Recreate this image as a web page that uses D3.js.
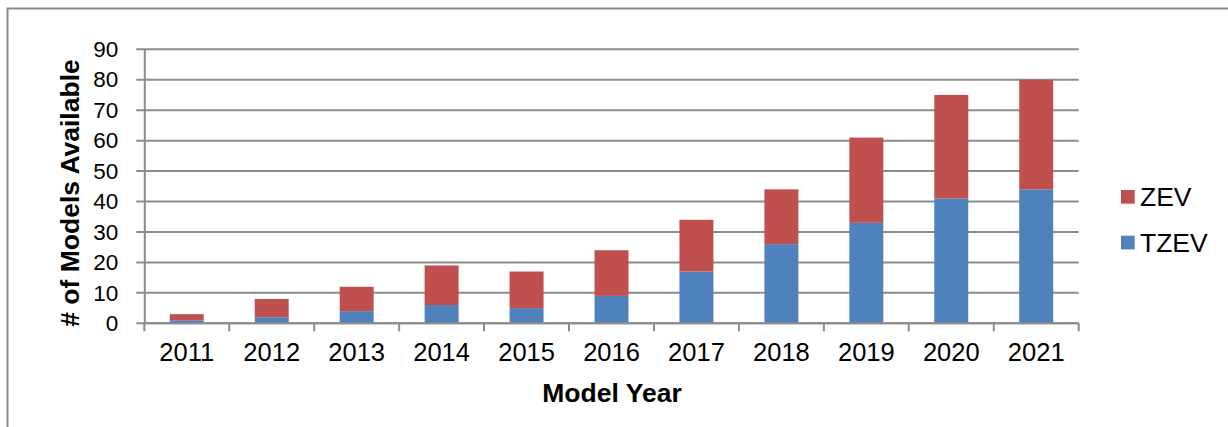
<!DOCTYPE html>
<html>
<head>
<meta charset="utf-8">
<script src="https://cdn.jsdelivr.net/npm/d3@7"></script>
<style>
  body { margin: 0; background: #fff; }
  svg { display: block; font-family: "Liberation Sans", Arial, sans-serif; }
</style>
</head>
<body>
<svg id="chart" width="1228" height="427"></svg>
<script>
var years = ["2011", "2012", "2013", "2014", "2015", "2016", "2017", "2018", "2019", "2020", "2021"];
var tzev = [1, 2, 4, 6, 5, 9, 17, 26, 33, 41, 44];
var zev = [2, 6, 8, 13, 12, 15, 17, 18, 28, 34, 36];
var yTicks = [0, 10, 20, 30, 40, 50, 60, 70, 80, 90];
var seriesNames = ["TZEV", "ZEV"];
var colors = {TZEV: "#4F81BD", ZEV: "#C0504D"};

var margin = {top: 49.3, left: 144.3};
var width = 1078.7 - margin.left;
var height = 323.3 - margin.top;

var svg = d3.select("#chart");

// outer frame
svg.append("rect")
    .attr("x", 7.5).attr("y", 8.5)
    .attr("width", 1240).attr("height", 440)
    .attr("fill", "none")
    .attr("stroke", "#8a8a8a")
    .attr("stroke-width", 2);

var g = svg.append("g")
    .attr("transform", "translate(" + margin.left + "," + margin.top + ")");

var x = d3.scaleBand().domain(years).range([0, width]).paddingInner(0.6).paddingOuter(0.3);
var xOuter = d3.scaleBand().domain(years).range([0, width]);
var y = d3.scaleLinear().domain([0, 90]).range([height, 0]);

// gridlines
g.append("g")
    .selectAll("line")
    .data(yTicks)
    .enter().append("line")
    .attr("x1", -8).attr("x2", width)
    .attr("y1", function(d) { return y(d); })
    .attr("y2", function(d) { return y(d); })
    .attr("stroke", "#8c8c8c")
    .attr("stroke-width", 2);

// stacked bars
var table = years.map(function(yr, i) { return {year: yr, TZEV: tzev[i], ZEV: zev[i]}; });
var stack = d3.stack().keys(seriesNames)(table);

g.append("g")
    .selectAll("g")
    .data(stack)
    .enter().append("g")
    .attr("fill", function(d) { return colors[d.key]; })
    .selectAll("rect")
    .data(function(d) { return d; })
    .enter().append("rect")
    .attr("x", function(d) { return x(d.data.year); })
    .attr("width", x.bandwidth())
    .attr("y", function(d) { return y(d[1]); })
    .attr("height", function(d) { return y(d[0]) - y(d[1]); });

// y axis
var yAxis = g.append("g")
    .call(d3.axisLeft(y).tickValues(yTicks).tickSize(0).tickPadding(26));
yAxis.select(".domain").attr("stroke", "#8c8c8c").attr("stroke-width", 2);
yAxis.selectAll("text")
    .attr("font-size", "22.5px")
    .attr("fill", "#000")
    .attr("font-family", "Liberation Sans, Arial, sans-serif");

// x axis
var xAxis = g.append("g")
    .attr("transform", "translate(0," + height + ")")
    .call(d3.axisBottom(xOuter).tickSize(0).tickPadding(20));
xAxis.select(".domain").remove();
xAxis.selectAll("text")
    .attr("font-size", "25.5px")
    .attr("fill", "#000")
    .attr("font-family", "Liberation Sans, Arial, sans-serif");
xAxis.append("line")
    .attr("x1", 0).attr("x2", width)
    .attr("stroke", "#8c8c8c").attr("stroke-width", 2);
xAxis.selectAll(".sep")
    .data(years.concat(["end"]))
    .enter().append("line")
    .attr("class", "sep")
    .attr("x1", function(d, i) { return i * xOuter.step(); })
    .attr("x2", function(d, i) { return i * xOuter.step(); })
    .attr("y1", 0).attr("y2", 8)
    .attr("stroke", "#8c8c8c").attr("stroke-width", 2);

// axis titles
svg.append("text")
    .attr("x", 612).attr("y", 402)
    .attr("text-anchor", "middle")
    .attr("font-size", "26.5px")
    .attr("font-weight", "bold")
    .text("Model Year");

svg.append("text")
    .attr("transform", "translate(79,193) rotate(-90)")
    .attr("text-anchor", "middle")
    .attr("font-size", "26.5px")
    .attr("font-weight", "bold")
    .text("# of Models Available");

// legend
var legend = svg.append("g").attr("transform", "translate(1121,190)");
var legItems = ["ZEV", "TZEV"];
legItems.forEach(function(name, i) {
    var row = legend.append("g").attr("transform", "translate(0," + (i * 45.7) + ")");
    row.append("rect")
        .attr("width", 13.7).attr("height", 13.7)
        .attr("fill", colors[name]);
    row.append("text")
        .attr("x", 19).attr("y", 16)
        .attr("font-size", "26.5px")
        .text(name);
});
</script>
</body>
</html>
